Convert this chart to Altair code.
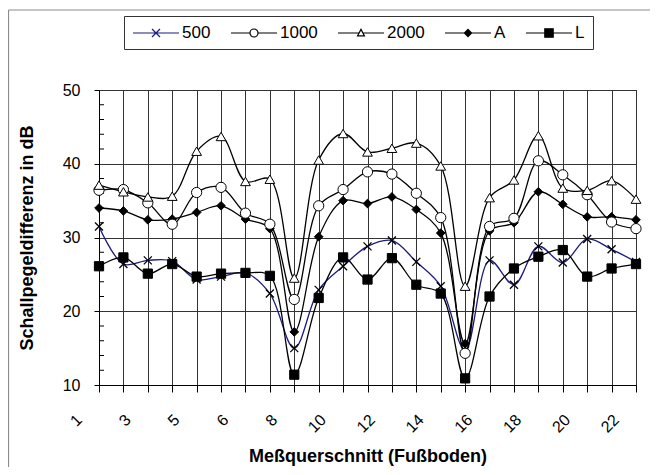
import json
import altair as alt
import pandas as pd

# ---------------- data ----------------
positions = list(range(23))
x_labels = ["1", "2", "3", "4", "5", "5a", "6", "7", "8", "9", "10", "11",
            "12", "13", "14", "15", "16", "17", "18", "19", "20", "21", "22"]
series_names = ["500", "1000", "2000", "A", "L"]

s500 = [31.5, 26.4, 26.9, 26.8, 24.3, 24.7, 25.2, 22.4, 15.0, 22.9, 26.1, 28.8,
        29.6, 26.7, 23.4, 14.7, 26.9, 23.6, 28.8, 26.6, 29.8, 28.4, 26.7]
s1000 = [36.4, 36.5, 34.7, 31.8, 36.1, 36.8, 33.3, 31.8, 21.6, 34.3, 36.5, 38.9,
         38.6, 36.0, 32.7, 14.3, 31.5, 32.6, 40.4, 38.5, 35.8, 32.1, 31.2]
s2000 = [37.1, 36.2, 35.5, 35.6, 41.7, 43.7, 37.6, 37.9, 24.5, 40.5, 44.1, 41.6,
         42.1, 42.8, 39.7, 23.4, 35.4, 37.8, 43.8, 36.7, 36.4, 37.7, 35.2]
sA = [34.0, 33.6, 32.4, 32.5, 33.4, 34.3, 32.5, 31.2, 17.2, 30.1, 35.0, 34.6,
      35.5, 33.8, 30.6, 15.6, 30.9, 32.0, 36.2, 34.5, 32.8, 32.8, 32.4]
sL = [26.1, 27.3, 25.1, 26.4, 24.7, 25.1, 25.2, 24.8, 11.4, 21.8, 27.3, 24.3,
      27.2, 23.6, 22.4, 10.9, 22.0, 25.8, 27.4, 28.3, 24.7, 25.8, 26.4]

y_major = [10, 20, 30, 40, 50]
y_minor = [12, 14, 16, 18, 22, 24, 26, 28, 32, 34, 36, 38, 42, 44, 46, 48]

series_values = [s500, s1000, s2000, sA, sL]
rows = []
for name, vals in zip(series_names, series_values):
    for p, v in zip(positions, vals):
        rows.append({"series": name, "pos": p, "val": v})
df = pd.DataFrame(rows)

FONT = "Liberation Sans"
NAVY = "#1a1a80"

# ---------------- styles ----------------
X_PATH = "M-1,-1L1,1M1,-1L-1,1"
styles = {
    "500":  dict(line=NAVY, shape=X_PATH, size=64, fill=None, sw=1.3),
    "1000": dict(line="black", shape="circle", size=105, fill="white", sw=1.0),
    "2000": dict(line="black", shape="triangle-up", size=95, fill="white", sw=1.0),
    "A":    dict(line="black", shape="diamond", size=75, fill="black", sw=1.0),
    "L":    dict(line="black", shape="square", size=85, fill="black", sw=1.0),
}

# legend symbols: line + marker, unit = 8px (symbolSize 256)
legend_paths = [
    "M-1,0H4.75M1.375,-0.5L2.375,0.5M2.375,-0.5L1.375,0.5",
    "M-1,0H1.375M2.375,0H4.75M1.375,0A0.5,0.5 0 1 0 2.375,0A0.5,0.5 0 1 0 1.375,0Z",
    "M-1,0H1.61M2.14,0H4.75M1.875,-0.45L2.3,0.35L1.45,0.35Z",
    "M-1,0H4.75M1.875,-0.45L2.325,0L1.875,0.45L1.425,0Z",
    "M-1,0H4.75M1.35,-0.52H2.4V0.52H1.35Z",
]
legend_fills = ["white", "white", "white", "black", "black"]
legend_strokes = [NAVY, "black", "black", "black", "black"]

label_expr = ("datum.value % 2 == 0 ? " + json.dumps(x_labels).replace('"', "'")
              + "[datum.value] : ''")

x_enc = alt.X(
    "pos:Q",
    scale=alt.Scale(domain=[0, 22], nice=False, zero=False),
    axis=alt.Axis(
        values=positions, labelExpr=label_expr, labelAngle=315,
        labelAlign="right", labelBaseline="middle", labelOffset=-20,
        labelPadding=25, labelFontSize=16, labelFont=FONT, labelColor="black",
        labelFlush=False, labelOverlap=False,
        tickSize=7, tickColor="black", domainColor="black",
        grid=True, gridColor="#333333", gridWidth=1,
        title="Meßquerschnitt (Fußboden)", titleFont=FONT, titleFontSize=18,
        titleFontWeight="bold", titleColor="black", titleX=268.5, titleY=71,
        titleAlign="center", titleBaseline="middle",
    ),
)
y_enc = alt.Y(
    "val:Q",
    scale=alt.Scale(domain=[10, 50], nice=False, zero=False),
    axis=alt.Axis(
        values=y_major, labelFontSize=16, labelFont=FONT, labelColor="black",
        labelPadding=14, labelFlush=False, tickSize=5, tickColor="black",
        domainColor="black", grid=True, gridColor="#333333", gridWidth=1,
        title="Schallpegeldifferenz in dB", titleFont=FONT, titleFontSize=18,
        titleFontWeight="bold", titleColor="black", titleX=-72, titleY=147.5,
        titleAngle=270, titleAlign="center", titleBaseline="middle",
    ),
)

base = alt.Chart(df).encode(x=x_enc, y=y_enc)

layers = []

# minor ticks inside the y axis
minor = alt.Chart(pd.DataFrame({"val": y_minor})).mark_rule(
    color="black", strokeWidth=1
).encode(y=y_enc, x=alt.value(0), x2=alt.value(5))
layers.append(minor)

# lines
for name in series_names:
    st = styles[name]
    layers.append(
        base.transform_filter(alt.datum.series == name).mark_line(
            interpolate="catmull-rom", color=st["line"], strokeWidth=1.3
        )
    )

# markers
for name in ["500", "L", "A", "1000", "2000"]:
    st = styles[name]
    if st["fill"] is None:
        mk = dict(shape=st["shape"], size=st["size"], filled=False,
                  stroke="black", strokeWidth=st["sw"], opacity=1)
    else:
        mk = dict(shape=st["shape"], size=st["size"], filled=True,
                  fill=st["fill"], stroke="black", strokeWidth=st["sw"],
                  opacity=1)
    layers.append(
        base.transform_filter(alt.datum.series == name).mark_point(**mk)
    )

# legend (symbols only, no drawn marks)
leg = alt.Legend(
    title=None, orient="none", legendX=25, legendY=-74, direction="horizontal",
    columns=5, symbolSize=256, symbolStrokeWidth=1.2, labelFontSize=17,
    labelFont=FONT, labelColor="black", labelOffset=32, columnPadding=17,
    padding=8, strokeColor="#333333", fillColor="white",
)
legend_layer = base.transform_filter("false").mark_point(
    filled=True, opacity=1
).encode(
    shape=alt.Shape("series:N", scale=alt.Scale(domain=series_names, range=legend_paths), legend=leg),
    fill=alt.Fill("series:N", scale=alt.Scale(domain=series_names, range=legend_fills), legend=leg),
    stroke=alt.Stroke("series:N", scale=alt.Scale(domain=series_names, range=legend_strokes), legend=leg),
)
layers.append(legend_layer)

# outer frame (left and top edges)
frame_df = pd.DataFrame({"d": [0]})
layers.append(alt.Chart(frame_df).mark_rule(color="#8c8c8c", strokeWidth=1.2).encode(
    x=alt.value(-90.5), y=alt.value(-80), y2=alt.value(380)))
layers.append(alt.Chart(frame_df).mark_rule(color="#8c8c8c", strokeWidth=1.2).encode(
    x=alt.value(-90.5), x2=alt.value(551), y=alt.value(-80)))

chart = alt.layer(*layers).properties(
    width=537, height=295,
    autosize=alt.AutoSizeParams(type="none"),
    padding={"left": 91, "top": 82, "right": 14, "bottom": 82},
    background="white",
).configure_view(stroke="black", strokeWidth=1)

chart.save("out.html", embed_options={"renderer": "svg", "actions": False})
